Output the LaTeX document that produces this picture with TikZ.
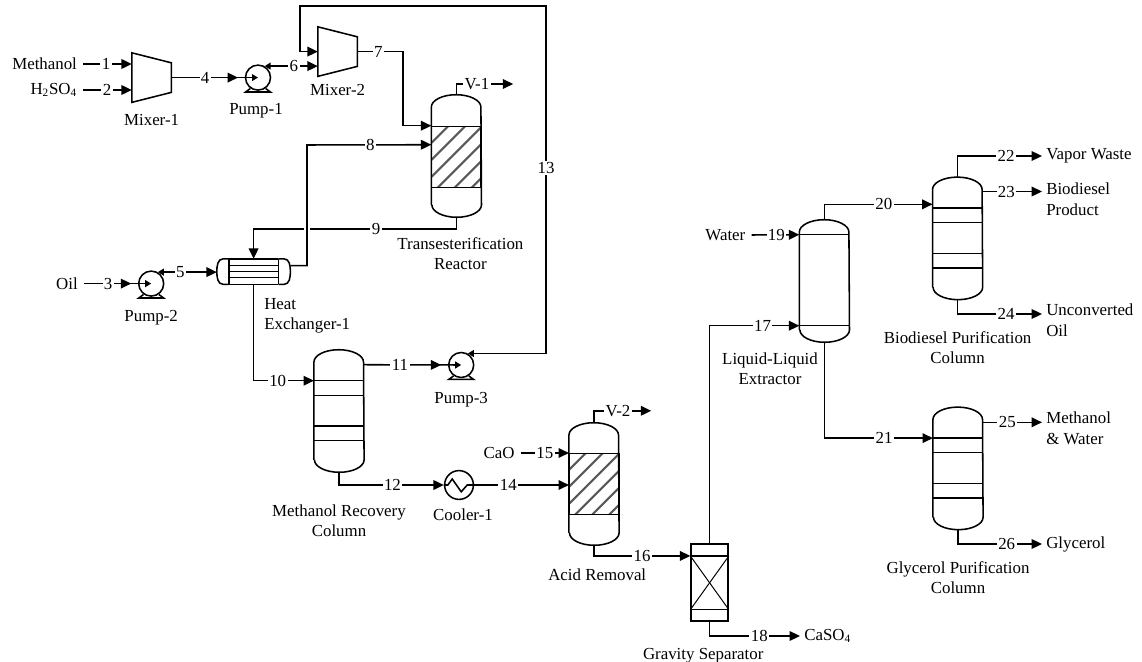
\documentclass[tikz,border=0pt]{standalone}
\usepackage{fontspec}
\setmainfont{Liberation Serif}
\usetikzlibrary{arrows.meta,positioning,calc,decorations.markings}

\begin{document}
\begin{tikzpicture}[
   every node/.style={font=\fontsize{12}{14.6}\selectfont},
   ln/.style={line width=1.1pt},
   flow/.style={ln,-{Triangle[length=0.26cm,width=0.24cm]}},
   pumpin/.style={ln,-{Triangle[length=0.15cm,width=0.17cm]},postaction={decorate},
                  decoration={markings,mark=at position -0.5cm with {\arrow{Triangle[length=0.26cm,width=0.24cm]}}}},
   pumpout/.style={ln,{Triangle[length=0.15cm,width=0.17cm]}-{Triangle[length=0.26cm,width=0.24cm]}},
   num/.style={fill=white,inner sep=1pt},
   txt/.style={inner sep=0.1cm,align=left},
   feed/.style={inner sep=0.15cm,anchor=east},
   prod/.style={txt,anchor=west},
   lbl/.style={inner sep=0.1cm,align=center},
   mixer/.style={rectangle,minimum width=0.975cm,minimum height=1.225cm,inner sep=0},
   pump/.style={ln,draw,circle,minimum size=0.625cm,inner sep=0},
   column/.style={rectangle,minimum width=1.24cm,minimum height=3.05cm,inner sep=0},
   bed/.style={ln,draw,rectangle,anchor=north,minimum width=1.24cm,minimum height=1.53cm,inner sep=0,
               path picture={
                 \foreach \c in {1.125,0.7,0.275,-0.15,-0.575,-1.0}
                   \draw[line width=1.5pt,black!65] ($(path picture bounding box.south west)+(0,\c)$) -- ++(2,2);
               }}
]
\useasboundingbox (0,0) rectangle (28.55,-16.55);

% equipment
\node[mixer] (Mix1) at (3.79,-1.94) {};
\node[mixer] (Mix2) at (8.44,-1.29) {};
\node[pump] (P1) at (6.45,-1.94) {};
\node[pump] (P2) at (3.78,-7.09) {};
\node[pump] (P3) at (11.53,-9.125) {};
\node[rectangle,minimum width=1.825cm,minimum height=0.625cm,inner sep=0] (HX) at (6.34,-6.79) {};
\node[ln,draw,circle,minimum size=0.72cm,inner sep=0] (CL) at (11.475,-12.125) {};
\node[column] (TR) at (11.41,-3.9) {};
\node[column] (MR) at (8.475,-10.275) {};
\node[column] (AR) at (14.85,-12.1) {};
\node[column] (LL) at (20.61,-7.025) {};
\node[column] (BP) at (23.94,-5.96) {};
\node[column] (GP) at (23.95,-11.71) {};
\node[ln,draw,rectangle,minimum width=0.925cm,minimum height=1.925cm,inner sep=0] (GS) at (17.74,-14.56) {};
\node[bed] (TRbed) at ($(TR.north)+(0,-0.775)$) {};
\node[bed] (ARbed) at ($(AR.north)+(0,-0.75)$) {};

% mixers
\foreach \m in {Mix1,Mix2}
  \draw[ln] (\m.north west) -- ($(\m.north east)+(0,-0.25)$) -- ($(\m.south east)+(0,0.25)$)
            -- (\m.south west) -- cycle;

% pump bases
\foreach \p in {P1,P2,P3}
  \draw[ln] (\p.235) -- ($(\p.center)+(-0.31,-0.36)$) -- ($(\p.center)+(0.31,-0.36)$) -- (\p.305);

% vessels
\foreach \v in {TR,MR,AR,LL,BP,GP}
  \draw[ln] ($(\v.south west)+(0,0.31)$) -- ($(\v.north west)+(0,-0.31)$)
            arc[start angle=180,end angle=0,x radius=0.62,y radius=0.31]
            -- ($(\v.south east)+(0,0.31)$)
            arc[start angle=0,end angle=-180,x radius=0.62,y radius=0.31];

% trays
\foreach \v in {MR,BP,GP}
  \foreach \d in {0.775,1.14,1.91,2.275}
    \draw[ln] ($(\v.north west)+(0,-\d)$) -- ($(\v.north east)+(0,-\d)$);
\foreach \d in {0.375,2.65}
  \draw[ln] ($(LL.north west)+(0,-\d)$) -- ($(LL.north east)+(0,-\d)$);

% heat exchanger
\draw[ln] ($(HX.north west)+(0.3,0)$) -- ($(HX.south west)+(0.3,0)$);
\draw[ln] ($(HX.north east)+(-0.3,0)$) -- ($(HX.south east)+(-0.3,0)$);
\draw[ln] ($(HX.north west)+(0.3,0)$) -- ($(HX.north east)+(-0.3,0)$);
\draw[ln] ($(HX.south west)+(0.3,0)$) -- ($(HX.south east)+(-0.3,0)$);
\draw[ln] ($(HX.north west)+(0.3,0)$) -- ($(HX.north west)+(0.16,0)$) to[out=180,in=90] (HX.west)
          to[out=-90,in=180] ($(HX.south west)+(0.16,0)$) -- ($(HX.south west)+(0.3,0)$);
\draw[ln] ($(HX.north east)+(-0.3,0)$) -- ($(HX.north east)+(-0.16,0)$) to[out=0,in=90] (HX.east)
          to[out=-90,in=0] ($(HX.south east)+(-0.16,0)$) -- ($(HX.south east)+(-0.3,0)$);
\foreach \d in {0.17,0.32,0.47}
  \draw[ln] ($(HX.north west)+(0.3,-\d)$) -- ($(HX.north east)+(-0.3,-\d)$);

% gravity separator
\draw[ln] ($(GS.north west)+(0,-0.32)$) -- ($(GS.north east)+(0,-0.32)$);
\draw[ln] ($(GS.south west)+(0,0.3)$) -- ($(GS.south east)+(0,0.3)$);
\draw[line width=0.7pt] ($(GS.north west)+(0,-0.32)$) -- ($(GS.south east)+(0,0.3)$);
\draw[line width=0.7pt] ($(GS.north east)+(0,-0.32)$) -- ($(GS.south west)+(0,0.3)$);

% cooler coil
\draw[ln] (CL.west) -- ++(0.1,0) -- ++(0.11,0.15) -- ++(0.225,-0.32) -- ++(0.15,0.17) -- (CL.east);

% feeds and products
\node[feed] (Meth) at (2.08,-1.6) {Methanol};
\node[feed] (Acid) at (2.08,-2.25) {H\textsubscript{2}SO\textsubscript{4}};
\node[feed] (Oil) at (2.1,-7.09) {Oil};
\node[feed] (CaO) at (13.02,-11.325) {CaO};
\node[feed] (Water) at (18.79,-5.875) {Water};
\node[prod] (Vap) at (26.05,-3.9) {Vapor Waste};
\node[prod] (Bio) at (26.05,-4.98) {Biodiesel\\Product};
\node[prod] (Unc) at (26.05,-8.0) {Unconverted\\Oil};
\node[prod] (MW) at (26.05,-10.71) {Methanol\\\& Water};
\node[prod] (Gly) at (26.05,-13.6) {Glycerol};
\node[prod] (Gyp) at (20.0,-15.9) {CaSO\textsubscript{4}};
\coordinate (V1) at (12.83,-2.1);
\coordinate (V2) at (16.28,-10.27);
\coordinate (e24) at (26.05,-7.85);

% equipment names
\node[lbl,below=0.2cm of Mix1] (nMix1) {Mixer-1};
\node[lbl,below=0.1cm of Mix2] (nMix2) {Mixer-2};
\node[lbl,below=0.2cm of P1,xshift=-0.05cm] (nP1) {Pump-1};
\node[lbl,below=0.22cm of P2] (nP2) {Pump-2};
\node[lbl,below=0.25cm of P3] (nP3) {Pump-3};
\node[lbl,below=0.1cm of CL,xshift=0.1cm] (nCL) {Cooler-1};
\node[lbl,below=0.4cm of TR,xshift=0.1cm] (nTR) {Transesterification\\Reactor};
\node[lbl,below=0.7cm of MR] (nMR) {Methanol Recovery\\Column};
\node[lbl,below=0.475cm of AR,xshift=0.08cm] (nAR) {Acid Removal};
\node[lbl,below=0.55cm of GS,xshift=-0.16cm] (nGS) {Gravity Separator};
\node[lbl,below=0.15cm of LL,xshift=-1.36cm] (nLL) {Liquid-Liquid\\Extractor};
\node[lbl,below=0.68cm of BP] (nBP) {Biodiesel Purification\\Column};
\node[lbl,below=0.68cm of GP] (nGP) {Glycerol Purification\\Column};
\node[txt,anchor=west] (nHX) at (6.5,-7.89) {Heat\\Exchanger-1};

% methanol feed line
\draw[flow] (Meth.east) -- node[num,pos=0.47]{1} (Meth.east -| Mix1.west);
\draw[flow] (Acid.east) -- node[num,pos=0.49]{2} (Acid.east -| Mix1.west);
\draw[pumpin] (Mix1.east) -- node[num,pos=0.39]{4} (P1.center);
\draw[pumpout] (P1.60) -- node[num,pos=0.55]{6} (P1.60 -| Mix2.west);
\coordinate (b7) at (10.07,-2);
\coordinate (TRa) at ($(TR.north west)+(0,-0.775)$);
\draw[flow] (Mix2.east) -| node[num,pos=0.23]{7} (b7) |- (TRa);

% oil feed line
\draw[pumpin] (Oil.east) -- node[num,pos=0.36]{3} (P2.center);
\draw[pumpout] (P2.60) -- node[num,pos=0.38]{5} (P2.60 -| HX.west);

% reactor loop
\coordinate (hxr) at ($(HX.east)+(0,0.15)$);
\coordinate (TRc) at ($(TR.north west)+(0,-1.25)$);
\coordinate (b8) at (7.675,-3.625);
\draw[flow] (hxr) -| (b8) -- node[num,pos=0.51]{8} (TRc);
\coordinate (b9) at (6.34,-5.72);
\coordinate (g9a) at (7.76,-5.72);
\coordinate (g9b) at (7.6,-5.72);
\draw[ln] (TR.south) |- node[num,pos=0.775]{9} (g9a);
\draw[flow] (g9b) -- (b9) -- (HX.north);
\draw[flow] (TR.north) |- node[num,pos=0.68]{V-1} (V1);

% methanol recovery
\coordinate (MRa) at ($(MR.north west)+(0,-0.775)$);
\coordinate (MRc) at ($(MR.north east)+(0,-0.375)$);
\draw[flow] (HX.south) |- node[num,pos=0.7]{10} (MRa);
\draw[pumpin] (MRc) -- node[num,pos=0.37]{11} (P3.center);
\coordinate (b13) at (13.65,-0.15);
\coordinate (c13) at (7.5,-1.29);
\draw[pumpout] (P3.60) -| node[num,pos=0.767]{13} (b13) -| (c13) -- (Mix2.west);
\draw[flow] (MR.south) |- node[num,pos=0.755]{12} (CL.west);
\draw[flow] (CL.east) -- node[num,pos=0.36]{14} (CL.east -| AR.west);

% acid removal and separator
\draw[flow] (CaO.east) -- node[num,pos=0.5]{15} (CaO.east -| AR.west);
\draw[flow] (AR.north) |- node[num,pos=0.71]{V-2} (V2);
\coordinate (GSa) at ($(GS.north west)+(0,-0.32)$);
\draw[flow] (AR.south) |- node[num,pos=0.75]{16} (GSa);
\coordinate (LLb) at ($(LL.north west)+(0,-2.65)$);
\coordinate (LLa) at ($(LL.north west)+(0,-0.375)$);
\draw[flow] (GS.north) |- node[num,pos=0.795]{17} (LLb);
\draw[flow] (GS.south) |- node[num,pos=0.775]{18} (Gyp.west);
\draw[flow] (Water.east) -- node[num,pos=0.52]{19} (LLa);

% purification columns
\coordinate (BPa) at ($(BP.north west)+(0,-0.68)$);
\coordinate (BPc) at ($(BP.north east)+(0,-0.36)$);
\coordinate (GPa) at ($(GP.north west)+(0,-0.775)$);
\coordinate (GPc) at ($(GP.north east)+(0,-0.38)$);
\draw[flow] (LL.north) |- node[num,pos=0.775]{20} (BPa);
\draw[flow] (LL.south) |- node[num,pos=0.775]{21} (GPa);
\draw[flow] (BP.north) |- node[num,pos=0.787]{22} (Vap.west);
\draw[flow] (BPc) -- node[num,pos=0.4]{23} (BPc -| Bio.west);
\draw[flow] (BP.south) |- node[num,pos=0.787]{24} (e24);
\draw[flow] (GPc) -- node[num,pos=0.41]{25} (GPc -| MW.west);
\draw[flow] (GP.south) |- node[num,pos=0.79]{26} (Gly.west);

\end{tikzpicture}
\end{document}
